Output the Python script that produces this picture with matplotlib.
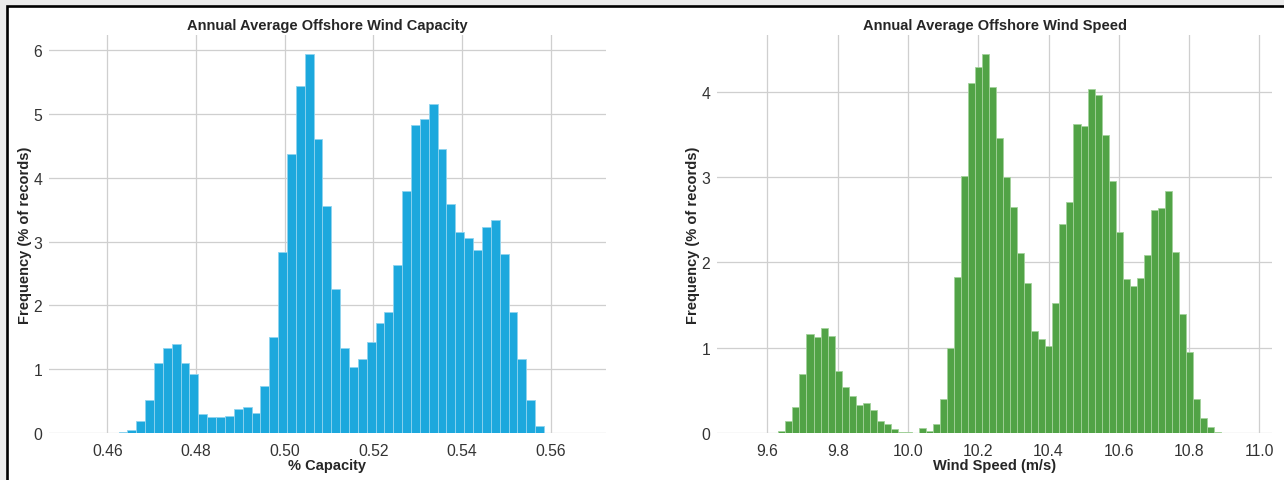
import matplotlib
matplotlib.use("Agg")
import matplotlib.pyplot as plt
from matplotlib.patches import Rectangle
from matplotlib.ticker import MultipleLocator, FormatStrFormatter

# Capacity factor histogram: bins of 0.002 starting at 0.4625 (% of records)
cap_bin_start = 0.4625
cap_bin_width = 0.002
cap_freq = [0.01, 0.04, 0.19, 0.52, 1.10, 1.33, 1.39, 1.10, 0.93, 0.29,
            0.25, 0.25, 0.27, 0.37, 0.41, 0.32, 0.73, 1.50, 2.84, 4.37,
            5.43, 5.94, 4.60, 3.55, 2.25, 1.33, 1.03, 1.16, 1.43, 1.72,
            1.90, 2.64, 3.79, 4.82, 4.92, 5.15, 4.45, 3.59, 3.15, 3.05,
            2.87, 3.23, 3.34, 2.81, 1.89, 1.16, 0.52, 0.11]

# Wind speed histogram: bins of 0.02 m/s starting at 9.631 (% of records)
ws_bin_start = 9.631
ws_bin_width = 0.02
ws_freq = [0.02, 0.14, 0.30, 0.69, 1.16, 1.13, 1.23, 1.14, 0.73, 0.54,
           0.43, 0.33, 0.35, 0.27, 0.14, 0.11, 0.05, 0.01, 0.01, 0.00,
           0.06, 0.02, 0.10, 0.40, 1.00, 1.83, 3.01, 4.10, 4.29, 4.44,
           4.05, 3.45, 3.00, 2.65, 2.11, 1.76, 1.20, 1.10, 1.02, 1.52,
           2.45, 2.71, 3.62, 3.60, 4.03, 3.96, 3.49, 2.95, 2.36, 1.80,
           1.72, 1.82, 2.09, 2.61, 2.63, 2.84, 2.12, 1.39, 0.95, 0.40,
           0.17, 0.07, 0.01]

cap_ticks = [0.46, 0.48, 0.50, 0.52, 0.54, 0.56]
ws_ticks = [9.6, 9.8, 10.0, 10.2, 10.4, 10.6, 10.8, 11.0]

plt.rcParams["font.family"] = ["Liberation Sans", "DejaVu Sans"]

W, H = 1284, 481
fig = plt.figure(figsize=(W / 100, H / 100), dpi=100, facecolor="#ebebeb")

# white panel with a dark frame along the top and left
fig.patches.append(Rectangle((7 / W, -0.1), 1.2, 1 - 7 / H + 0.1,
                             transform=fig.transFigure, facecolor="white",
                             edgecolor="black", linewidth=1.9, zorder=-10))


def hist_panel(rect, start, width, freq, color, edge, ticks, xlim, ystep,
               title, xlabel, fmt):
    ax = fig.add_axes(rect)
    ax.set_facecolor("white")
    lefts = [start + i * width for i in range(len(freq))]
    ax.bar(lefts, freq, width=width, align="edge", color=color,
           edgecolor=edge, linewidth=0.6, zorder=2)
    ax.set_xlim(*xlim)
    ax.set_xticks(ticks)
    ax.xaxis.set_major_formatter(FormatStrFormatter(fmt))
    ax.yaxis.set_major_locator(MultipleLocator(ystep))
    ax.yaxis.set_major_formatter(FormatStrFormatter("%d"))
    ax.grid(True, color="#cfcfcf", linewidth=0.9, zorder=0)
    ax.set_axisbelow(True)
    for s in ax.spines.values():
        s.set_visible(False)
    ax.tick_params(length=0, labelsize=11.3, labelcolor="#333333")
    ax.tick_params(axis="x", pad=7)
    ax.tick_params(axis="y", pad=5)
    ax.set_title(title, fontsize=10.5, fontweight="bold", color="#262626",
                 pad=4)
    ax.set_xlabel(xlabel, fontsize=10.5, fontweight="bold", color="#262626",
                  labelpad=0.3)
    ax.set_ylabel("Frequency (% of records)", fontsize=10.5,
                  fontweight="bold", color="#262626", labelpad=0.6)
    fig.canvas.draw()
    ax.get_ygridlines()[0].set_visible(False)
    return ax


ax1 = hist_panel([49 / W, 1 - 434 / H, (606 - 49) / W, (434 - 36) / H],
                 cap_bin_start, cap_bin_width, cap_freq,
                 "#1ca8dd", "#8fd3ef", cap_ticks, (0.4468, 0.5725), 1,
                 "Annual Average Offshore Wind Capacity", "% Capacity", "%.2f")

ax2 = hist_panel([717 / W, 1 - 434 / H, (1272 - 717) / W, (434 - 36) / H],
                 ws_bin_start, ws_bin_width, ws_freq,
                 "#51a346", "#a3d29b", ws_ticks, (9.4563, 11.036), 1,
                 "Annual Average Offshore Wind Speed", "Wind Speed (m/s)", "%.1f")

fig.savefig("out.png", dpi=100, facecolor=fig.get_facecolor())
